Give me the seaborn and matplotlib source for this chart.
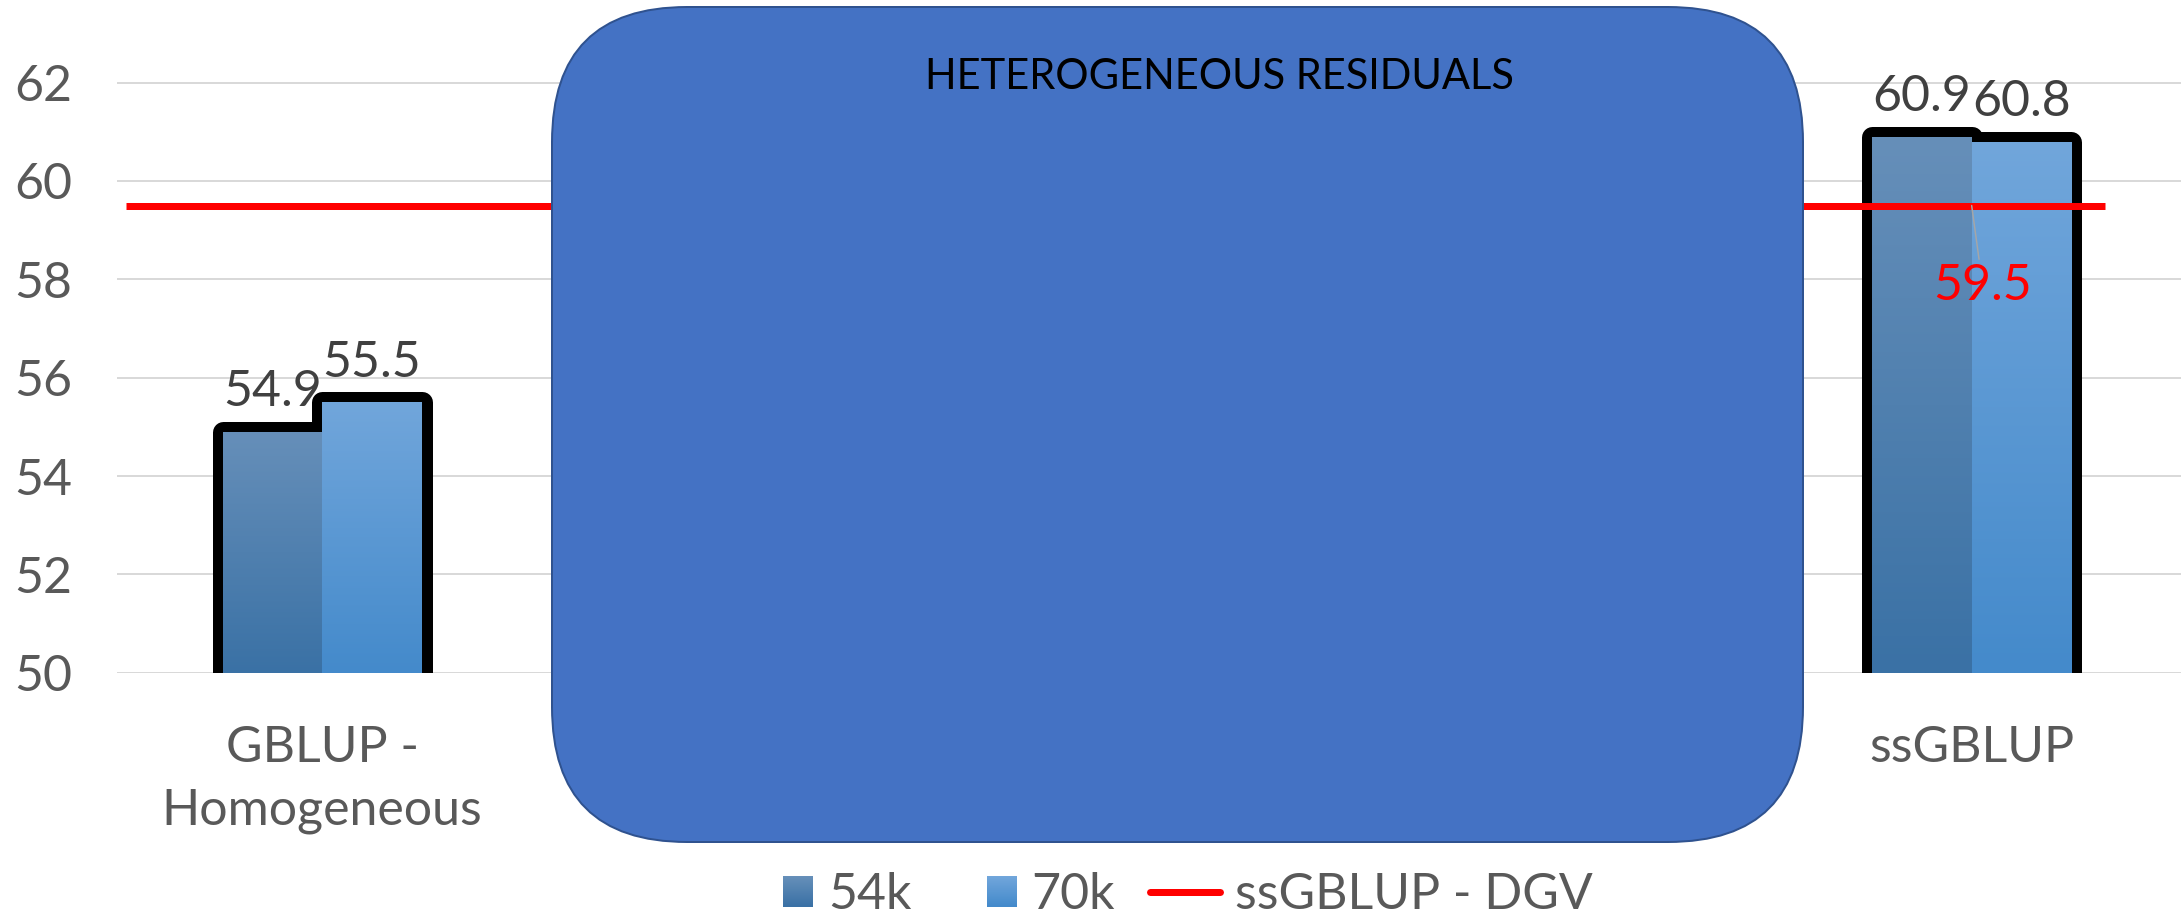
import numpy as np
import pandas as pd
import matplotlib
matplotlib.use("Agg")
import matplotlib.pyplot as plt
import seaborn as sns
from matplotlib.patches import FancyBboxPatch, Patch, Rectangle
from matplotlib.lines import Line2D
from matplotlib.transforms import IdentityTransform
from matplotlib.colors import to_rgb

# ---- data -------------------------------------------------------------
methods = ["GBLUP -\nHomogeneous", "ssGBLUP"]
panels = ["54k", "70k"]
acc_54k = [54.9, 60.9]
acc_70k = [55.5, 60.8]
dgv_label = "ssGBLUP - DGV"
dgv_value = 59.5
overlay_text = "HETEROGENEOUS RESIDUALS"
yticks = [50, 52, 54, 56, 58, 60, 62]

df = pd.DataFrame({
    "method": methods * 2,
    "panel": [panels[0]] * len(methods) + [panels[1]] * len(methods),
    "acc": acc_54k + acc_70k,
})

# ---- style ------------------------------------------------------------
sns.set_theme(style="white")
plt.rcParams["font.family"] = ["Lato", "DejaVu Sans"]

W, H, DPI = 2181, 915, 100
PX = 72 / DPI  # points per pixel
FS = 36

top_colors = {"54k": "#668FB9", "70k": "#71A6DB"}
bot_colors = {"54k": "#3A71A5", "70k": "#448ACB"}
mid_colors = {"54k": "#4F80B0", "70k": "#5A97D3"}


def gradient_rgb(panel, n):
    c_top = np.array(to_rgb(top_colors[panel]))
    c_bot = np.array(to_rgb(bot_colors[panel]))
    t = np.linspace(0, 1, n)[:, None]
    return c_top * (1 - t) + c_bot * t


fig = plt.figure(figsize=(W / DPI, H / DPI), dpi=DPI)
ax = fig.add_axes([117 / W, (H - 672.7) / H, 1 - 117 / W, 672.7 / H])

sns.barplot(data=df, x="method", y="acc", hue="panel", order=methods,
            hue_order=panels, palette=mid_colors, width=0.1206, dodge=True,
            saturation=1, legend=False, ax=ax)

ymin, ymax = 50, 63.68
xlim = (-0.1243, 1.1269)

# gradient fills over a thick black outline for each bar
for container, panel in zip(ax.containers, panels):
    img = gradient_rgb(panel, 256)[:, None, :]
    for bar in container:
        bar.set_facecolor("black")
        bar.set_edgecolor("black")
        bar.set_linewidth(21 * PX)
        bar.set_joinstyle("round")
        bar.set_zorder(2)
        x0 = bar.get_x()
        x1 = x0 + bar.get_width()
        h = bar.get_height()
        clip = Rectangle((x0, 0), bar.get_width(), h, transform=ax.transData)
        im = ax.imshow(img, extent=(x0, x1, ymin, h), aspect="auto",
                       origin="upper", zorder=3, interpolation="bilinear")
        im.set_clip_path(clip)
        ax.annotate(f"{h:.1f}", (x0 + bar.get_width() / 2, h),
                    xytext=(0, 12), textcoords="offset points",
                    ha="center", va="bottom", fontsize=FS, color="#404040",
                    zorder=6)

# reference level line
ax.hlines(dgv_value, -0.1188, 1.0808, color="#FF0000", lw=7 * PX, zorder=4)
ax.annotate(f"{dgv_value:.1f}", (1.0, dgv_value),
            xytext=(11 * PX, -80 * PX), textcoords="offset points",
            ha="center", va="center", fontsize=FS, color="#FF0000", zorder=6,
            arrowprops=dict(arrowstyle="-", color="#A6A6A6", lw=1.5 * PX,
                            shrinkA=0, shrinkB=0))

ax.set_xlim(*xlim)
ax.set_ylim(ymin, ymax)
ax.set_yticks(yticks)
ax.yaxis.grid(True, color="#D9D9D9", lw=2 * PX)
ax.xaxis.grid(False)
ax.set_axisbelow(True)
for s in ax.spines.values():
    s.set_visible(False)
ax.set_xlabel("")
ax.set_ylabel("")
ax.tick_params(axis="y", length=0, pad=32, labelsize=FS, labelcolor="#595959")
ax.tick_params(axis="x", length=0, pad=38, labelsize=FS, labelcolor="#595959")
for lbl in ax.get_xticklabels():
    lbl.set_linespacing(1.43)


# legend: gradient squares built from thin strips
class GradientSquareHandler:
    def __init__(self, panel):
        self.panel = panel

    def legend_artist(self, legend, orig_handle, fontsize, handlebox):
        s = 30 * PX
        w, h = handlebox.width, handlebox.height
        x0 = w - s - handlebox.xdescent
        y0 = (h - s) / 2 - handlebox.ydescent
        n = 30
        cols = gradient_rgb(self.panel, n)
        first = None
        for i in range(n):
            r = Rectangle((x0, y0 + s - (i + 1) * s / n), s, s / n + 0.05,
                          facecolor=cols[i], edgecolor="none",
                          transform=handlebox.get_transform())
            handlebox.add_artist(r)
            first = first or r
        return first


handles = [Patch(facecolor=mid_colors[p], label=p) for p in panels]
handles.append(Line2D([], [], color="#FF0000", lw=7 * PX))
labels = panels + [dgv_label]
fig.legend(handles, labels, loc="center", bbox_to_anchor=(1168 / W, (H - 895) / H),
           ncol=3, frameon=False, fontsize=FS, labelcolor="#595959",
           handlelength=70 * PX / FS, handletextpad=0.3, columnspacing=0.7,
           handler_map={handles[0]: GradientSquareHandler(panels[0]),
                        handles[1]: GradientSquareHandler(panels[1])})

# overlay panel
box = FancyBboxPatch((552, H - 842), 1803 - 552, 842 - 7,
                     boxstyle="round,pad=0,rounding_size=135",
                     transform=IdentityTransform(), facecolor="#4472C4",
                     edgecolor="#2F528F", lw=2 * PX, zorder=10)
fig.add_artist(box)
fig.text(1219.5 / W, (H - 77) / H, overlay_text, ha="center", va="center",
         fontsize=30, color="black", zorder=11)

fig.savefig("out.png", dpi=DPI)
